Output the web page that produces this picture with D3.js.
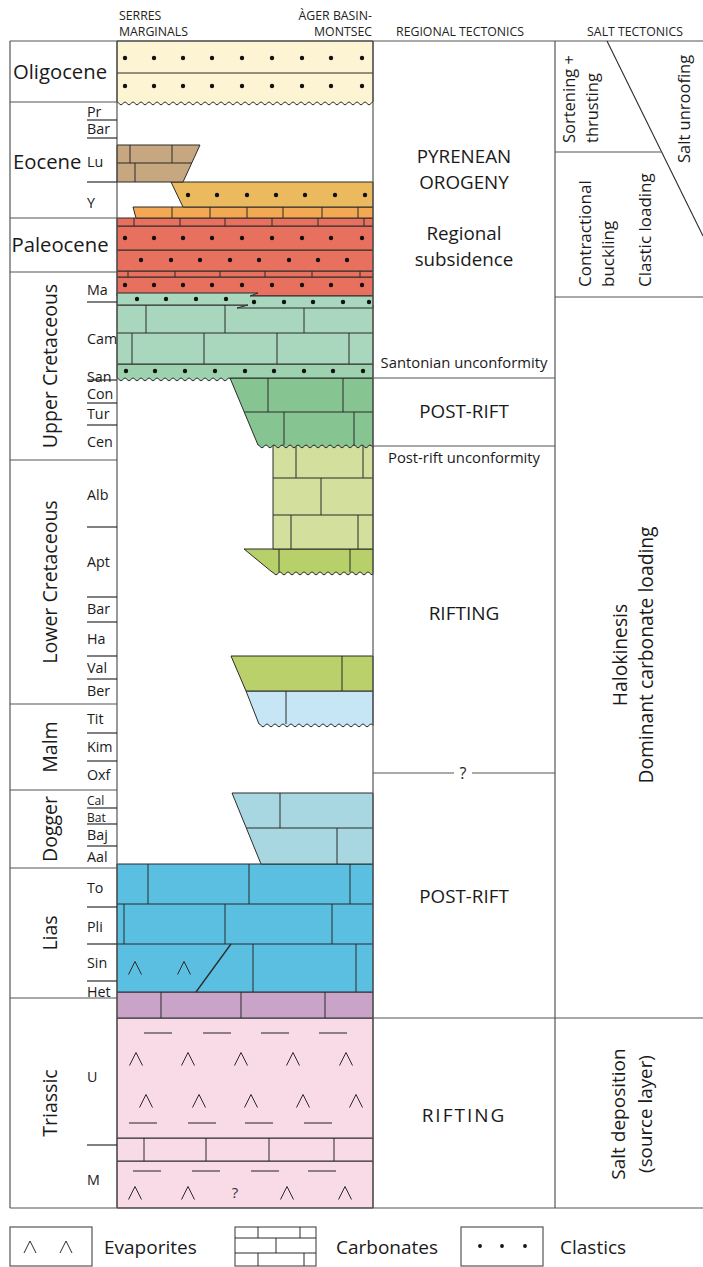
<!DOCTYPE html>
<html>
<head>
<meta charset="utf-8">
<script src="https://cdn.jsdelivr.net/npm/d3@7"></script>
<style>
  body { margin: 0; background: #fff; }
  svg { display: block; font-family: "Open Sans", sans-serif; }
</style>
</head>
<body>
<svg width="703" height="1267"></svg>
<script>
// ---- Data (depth = chart units from top of column, x = units across the lithology column 0..256)
const epochNames = ["Oligocene", "Eocene", "Paleocene", "Upper Cretaceous", "Lower Cretaceous", "Malm", "Dogger", "Lias", "Triassic"];
const epochBounds = [0, 61, 177, 231, 419, 663, 749, 827, 957, 1167];
const epochVertical = [false, false, false, true, true, true, true, true, true];

const stageNames = ["Pr", "Bar", "Lu", "Y", "Ma", "Cam", "San", "Con", "Tur", "Cen", "Alb", "Apt", "Bar", "Ha", "Val", "Ber",
  "Tit", "Kim", "Oxf", "Cal", "Bat", "Baj", "Aal", "To", "Pli", "Sin", "Het", "U", "M"];
const stageMid = [71, 88, 121, 162, 249, 298, 336, 353, 373, 401, 454, 521, 568, 598, 627, 650,
  678, 706, 734, 759, 776, 794, 816, 847, 886, 922, 951, 1036, 1139];
const stageLines = [79, 97, 141, 261, 339, 362, 384, 486, 556, 581, 615, 638, 692, 720, 767, 783, 805, 866, 903, 940, 1104];

const dotsA = [8, 37, 66, 95, 125, 155, 185, 214, 245];

// lithological units, listed top to bottom
const units = [
  { id: "oli", top: 0, bot: 61, lines: [32], dots: [[17, dotsA], [45, dotsA]], wavy: true },
  { id: "lu", top: 104, bot: 141, tl: 0, tr: 83, br: 66, lines: [122], bricks: [[104, 122, [13, 55]], [122, 141, [18]]] },
  { id: "yCl", top: 141, bot: 166, tl: 54, bl: 66, dots: [[154, [71, 100, 130, 159, 188, 218, 248]]] },
  { id: "yCa", top: 166, bot: 177, tl: 16, bl: 19, bricks: [[166, 177, [55, 93, 130, 166, 205, 241]]] },
  { id: "paCa", top: 177, bot: 185, bricks: [[177, 185, [17, 63, 108, 155, 201, 247]]] },
  { id: "paCl1", top: 185, bot: 209, dots: [[197, dotsA]] },
  { id: "paCl2", top: 209, bot: 230, dots: [[219, [24, 54, 83, 113, 142, 172, 201, 230]]] },
  { id: "paCa2", top: 230, bot: 236, bricks: [[230, 236, [11, 58, 103, 148, 195, 243]]] },
  { id: "maG", pts: [[0, 252], [141, 252], [133, 255], [256, 255], [256, 267], [120, 267], [131, 264], [0, 264]],
    dots: [[258, [20, 49, 79, 109]], [261, [137, 167, 196, 226, 252]]] },
  { id: "maR", top: 236, bot: 255, dots: [[244, dotsA]] },
  { id: "cam", top: 264, bot: 323, lines: [292], bricks: [[264, 292, [29, 108, 187]], [292, 323, [15, 87, 160, 232]]] },
  { id: "san", top: 323, bot: 337, dots: [[330, [9, 38, 68, 98, 128, 157, 187, 216, 246]]], wavy: [0, 113] },
  { id: "cc", top: 337, bot: 404, tl: 113, bl: 141, lines: [371], bricks: [[337, 371, [151, 226]], [371, 404, [167, 237]]], wavy: true },
  { id: "alb", top: 404, bot: 508, tl: 156, lines: [437, 474], bricks: [[404, 437, [179, 246]], [437, 474, [204]], [474, 508, [174, 241]]] },
  { id: "apt", top: 508, bot: 531, tl: 127, bl: 155, bricks: [[508, 531, [162, 233]]], wavy: true },
  { id: "val", top: 615, bot: 650, tl: 114, bl: 129, bricks: [[615, 650, [225]]] },
  { id: "ber", top: 650, bot: 683, tl: 129, bl: 142, bricks: [[650, 683, [169]]], wavy: true },
  { id: "dog", top: 752, bot: 823, tl: 115, bl: 144, lines: [787], bricks: [[752, 787, [163]], [787, 823, [220]]] },
  { id: "lias", top: 823, bot: 951, lines: [863, 903], bricks: [[823, 863, [31, 132, 233]], [863, 903, [7, 108, 215]], [903, 951, [136, 239]]],
    carets: [[927, [18, 67]]], diag: [[114, 903, 79, 951]] },
  { id: "het", top: 951, bot: 977, bricks: [[951, 977, [44, 124, 208]]] },
  { id: "triU", top: 977, bot: 1097, dashes: [[992, [41, 100, 158, 216]], [1082, [26, 85, 142, 201]]],
    carets: [[1018, [19, 71, 124, 176, 229]], [1060, [29, 82, 134, 186, 239]]] },
  { id: "triC", top: 1097, bot: 1120, bricks: [[1097, 1120, [27, 89, 152, 217]]] },
  { id: "triM", top: 1120, bot: 1167, dashes: [[1130, [30, 89, 148, 205]]], carets: [[1152, [18, 71, 170, 228]]], query: [[118, 1152]] }
];

const unitFill = {
  oli: "#fdf4d3", lu: "#c6a77f", yCl: "#ebb95e", yCa: "#f3a953", paCa: "#e8705e", paCl1: "#e8705e", paCl2: "#e8705e",
  paCa2: "#e8705e", maG: "#a9d7bd", maR: "#e8705e", cam: "#a9d7bd", san: "#9ed1ad", cc: "#86c491", alb: "#d3df9c",
  apt: "#b7d06a", val: "#b9d06b", ber: "#c6e6f5", dog: "#a9d7e1", lias: "#5bbfe1", het: "#c9a3c8",
  triU: "#f8dbe7", triC: "#f8dbe7", triM: "#f8dbe7"
};

// regional tectonics
const regionalBounds = [337, 405, 732, 977];
const regionalLabels = [
  { lines: ["PYRENEAN", "OROGENY"], d: 122, size: 18.8 },
  { lines: ["Regional", "subsidence"], d: 199, size: 18.8 },
  { lines: ["Santonian unconformity"], d: 327, size: 14.8 },
  { lines: ["POST-RIFT"], d: 377, size: 18.8 },
  { lines: ["Post-rift unconformity"], d: 422, size: 14.8 },
  { lines: ["RIFTING"], d: 579, size: 19 },
  { lines: ["POST-RIFT"], d: 862, size: 18.8 },
  { lines: ["RIFTING"], d: 1081, size: 19, spacing: 2 }
];

// salt tectonics
const saltBounds = [256, 977];
const saltLabels = [
  { text: "Sortening +", bx: 575, d: 102, anchor: "start", size: 16.5 },
  { text: "thrusting", bx: 598, d: 102, anchor: "start", size: 16.5 },
  { text: "Salt unroofing", bx: 690, d: 122, anchor: "start", size: 16.5 },
  { text: "Contractional", bx: 591, d: 246, anchor: "start", size: 17 },
  { text: "buckling", bx: 614, d: 246, anchor: "start", size: 17 },
  { text: "Clastic loading", bx: 651, d: 246, anchor: "start", size: 17 },
  { text: "Halokinesis", bx: 627, d: 614, anchor: "middle", size: 19.3 },
  { text: "Dominant carbonate loading", bx: 653, d: 614, anchor: "middle", size: 19.3 },
  { text: "Salt deposition", bx: 625, d: 1073, anchor: "middle", size: 19 },
  { text: "(source layer)", bx: 652, d: 1073, anchor: "middle", size: 18.8 }
];

const legendItems = ["Evaporites", "Carbonates", "Clastics"];

// ---- Layout
const svg = d3.select("svg");
const colLeft = 10, colStage = 117, colReg = 373, colSalt = 555, colRight = 703;
const y = d3.scaleLinear().domain([0, 1167]).range([41, 1208]);
const x = d3.scaleLinear().domain([0, 256]).range([colStage, colReg]);
const ink = "#2b2b2b";
const frame = "#555";

// ---- Lithology units
const gUnits = svg.append("g");

function edgeAt(u, d, side) {
  const tl = u.tl ?? 0, tr = u.tr ?? 256, bl = u.bl ?? tl, br = u.br ?? tr;
  const t = (d - u.top) / (u.bot - u.top);
  return side === "l" ? tl + (bl - tl) * t : tr + (br - tr) * t;
}

function unitPath(u) {
  if (u.pts) return "M" + u.pts.map(p => x(p[0]) + "," + y(p[1])).join("L") + "Z";
  const tl = u.tl ?? 0, tr = u.tr ?? 256, bl = u.bl ?? tl, br = u.br ?? tr;
  let p = `M${x(tl)},${y(u.top)}L${x(tr)},${y(u.top)}L${x(br)},${y(u.bot)}`;
  if (u.wavy) {
    const w = u.wavy === true ? [bl, br] : u.wavy;
    p += `L${x(w[1])},${y(u.bot)}`;
    for (let px = x(w[1]); px >= x(w[0]); px -= 1) {
      p += `L${px},${(y(u.bot) + 1.4 - 1.4 * Math.cos((px - x(w[0])) * 2 * Math.PI / 8)).toFixed(2)}`;
    }
  }
  p += `L${x(bl)},${y(u.bot)}Z`;
  return p;
}

function caret(g, cx, cy, s) {
  g.append("path")
    .attr("d", `M${cx - s / 2},${cy + s / 2}L${cx},${cy - s / 2}L${cx + s / 2},${cy + s / 2}`)
    .attr("fill", "none").attr("stroke", ink).attr("stroke-width", 1);
}

units.slice().reverse().forEach(u => {
  const g = gUnits.append("g");
  g.append("path").attr("d", unitPath(u))
    .attr("fill", unitFill[u.id]).attr("stroke", ink).attr("stroke-width", 1);
  (u.lines || []).forEach(d => {
    g.append("line").attr("x1", x(edgeAt(u, d, "l"))).attr("x2", x(edgeAt(u, d, "r")))
      .attr("y1", y(d)).attr("y2", y(d)).attr("stroke", ink);
  });
  (u.bricks || []).forEach(([t, b, xs]) => {
    g.selectAll(null).data(xs).enter().append("line")
      .attr("x1", v => x(v)).attr("x2", v => x(v)).attr("y1", y(t)).attr("y2", y(b)).attr("stroke", ink);
  });
  (u.dots || []).forEach(([d, xs]) => {
    g.selectAll(null).data(xs).enter().append("circle")
      .attr("cx", v => x(v)).attr("cy", y(d)).attr("r", 2.2).attr("fill", "#111");
  });
  (u.dashes || []).forEach(([d, xs]) => {
    g.selectAll(null).data(xs).enter().append("line")
      .attr("x1", v => x(v) - 14).attr("x2", v => x(v) + 14).attr("y1", y(d)).attr("y2", y(d))
      .attr("stroke", "#444").attr("stroke-width", 1.2);
  });
  (u.carets || []).forEach(([d, xs]) => xs.forEach(v => caret(g, x(v), y(d), 13)));
  (u.diag || []).forEach(([x1, d1, x2, d2]) => {
    g.append("line").attr("x1", x(x1)).attr("y1", y(d1)).attr("x2", x(x2)).attr("y2", y(d2)).attr("stroke", ink).attr("stroke-width", 1.3);
  });
  (u.query || []).forEach(([v, d]) => {
    g.append("text").attr("x", x(v)).attr("y", y(d) + 5).attr("text-anchor", "middle")
      .attr("font-size", 15).attr("fill", "#333").text("?");
  });
});

// ---- Frame
const gF = svg.append("g").attr("stroke", frame).attr("stroke-width", 1.2);
gF.append("line").attr("x1", colLeft).attr("x2", colRight).attr("y1", y(0)).attr("y2", y(0));
gF.append("line").attr("x1", colLeft).attr("x2", colRight).attr("y1", y(1167)).attr("y2", y(1167));
[colLeft, colStage, colReg, colSalt].forEach(cx => {
  gF.append("line").attr("x1", cx).attr("x2", cx).attr("y1", y(0)).attr("y2", y(1167));
});
// epoch boundaries
gF.selectAll(null).data(epochBounds.slice(1, -1)).enter().append("line")
  .attr("x1", colLeft).attr("x2", colStage).attr("y1", d => y(d)).attr("y2", d => y(d));
// stage boundaries
svg.append("g").selectAll("line").data(stageLines).enter().append("line")
  .attr("x1", 87).attr("x2", colStage).attr("y1", d => y(d)).attr("y2", d => y(d))
  .attr("stroke", ink).attr("stroke-width", 1.2);

// ---- Epoch labels
const gE = svg.append("g").attr("fill", "#1a1a1a");
epochNames.forEach((name, i) => {
  const mid = (epochBounds[i] + epochBounds[i + 1]) / 2;
  if (epochVertical[i]) {
    gE.append("text").attr("transform", `translate(57,${y(mid)}) rotate(-90)`)
      .attr("text-anchor", "middle").attr("font-size", 19.5).text(name);
  } else {
    const isEo = name === "Eocene";
    gE.append("text").attr("x", isEo ? 13 : 60).attr("y", isEo ? y(121) + 7 : y(mid) + 7)
      .attr("text-anchor", isEo ? "start" : "middle").attr("font-size", 20.3).text(name);
  }
});

// ---- Stage labels (the thin Cal / Bat stages get a slightly smaller size so they do not collide)
const thinStages = new Set(["Cal", "Bat"]);
svg.append("g").selectAll("text").data(stageNames).enter().append("text")
  .attr("x", 87).attr("y", (d, i) => y(stageMid[i]) + 5)
  .attr("font-size", d => thinStages.has(d) ? 12 : 14.3).attr("fill", "#1a1a1a").text(d => d);

// ---- Column headers
const gH = svg.append("g").attr("font-size", 12.3).attr("fill", "#222");
gH.append("text").attr("x", colStage + 2).attr("y", 20).text("SERRES");
gH.append("text").attr("x", colStage + 2).attr("y", 36).text("MARGINALS");
gH.append("text").attr("x", colReg - 1).attr("y", 20).attr("text-anchor", "end").text("ÀGER BASIN-");
gH.append("text").attr("x", colReg - 1).attr("y", 36).attr("text-anchor", "end").text("MONTSEC");
gH.append("text").attr("x", 460).attr("y", 36).attr("text-anchor", "middle").text("REGIONAL TECTONICS");
gH.append("text").attr("x", 635).attr("y", 36).attr("text-anchor", "middle").text("SALT TECTONICS");

// ---- Regional tectonics
const regMid = (colReg + colSalt) / 2;
const gR = svg.append("g");
regionalBounds.forEach(d => {
  const xEnd = d === 977 ? colRight : colSalt;
  if (d === 732) {
    gR.append("line").attr("x1", colReg).attr("x2", regMid - 10).attr("y1", y(d)).attr("y2", y(d)).attr("stroke", frame).attr("stroke-width", 1.2);
    gR.append("line").attr("x1", regMid + 8).attr("x2", xEnd).attr("y1", y(d)).attr("y2", y(d)).attr("stroke", frame).attr("stroke-width", 1.2);
    gR.append("text").attr("x", regMid - 1).attr("y", y(d) + 6).attr("text-anchor", "middle").attr("font-size", 16).attr("fill", "#222").text("?");
  } else {
    gR.append("line").attr("x1", colReg).attr("x2", xEnd).attr("y1", y(d)).attr("y2", y(d)).attr("stroke", frame).attr("stroke-width", 1.2);
  }
});
regionalLabels.forEach(l => {
  const t = gR.append("text").attr("text-anchor", "middle").attr("font-size", l.size).attr("fill", "#1a1a1a")
    .attr("letter-spacing", l.spacing || 0);
  l.lines.forEach((s, i) => {
    t.append("tspan").attr("x", regMid).attr("y", y(l.d) + i * 26).text(s);
  });
});

// ---- Salt tectonics
const gS = svg.append("g");
gS.append("line").attr("x1", colSalt).attr("x2", colRight).attr("y1", y(saltBounds[0])).attr("y2", y(saltBounds[0]))
  .attr("stroke", frame).attr("stroke-width", 1.2);
const diag = [[607, y(0)], [703, y(195)]];
gS.append("line").attr("x1", diag[0][0]).attr("y1", diag[0][1]).attr("x2", diag[1][0]).attr("y2", diag[1][1])
  .attr("stroke", ink).attr("stroke-width", 1.1);
const dSplit = 111;
const xSplit = diag[0][0] + (y(dSplit) - diag[0][1]) / (diag[1][1] - diag[0][1]) * (diag[1][0] - diag[0][0]);
gS.append("line").attr("x1", colSalt).attr("x2", xSplit).attr("y1", y(dSplit)).attr("y2", y(dSplit))
  .attr("stroke", frame).attr("stroke-width", 1.2);
saltLabels.forEach(l => {
  gS.append("text").attr("transform", `translate(${l.bx},${y(l.d)}) rotate(-90)`)
    .attr("text-anchor", l.anchor).attr("font-size", l.size).attr("fill", "#1a1a1a").text(l.text);
});

// ---- Legend
const gL = svg.append("g");
const boxes = [[10, 92], [235, 316], [461, 543]];
const lt = 1227, lb = 1266;
boxes.forEach(([a, b], i) => {
  gL.append("rect").attr("x", a).attr("y", lt).attr("width", b - a).attr("height", lb - lt)
    .attr("fill", "#fff").attr("stroke", frame).attr("stroke-width", 1.2);
  gL.append("text").attr("x", [104, 336, 560][i]).attr("y", 1254).attr("font-size", 19).attr("fill", "#1a1a1a").text(legendItems[i]);
});
[30, 66].forEach(cx => caret(gL, cx, 1247, 12));
[1238, 1253].forEach(ly => gL.append("line").attr("x1", 235).attr("x2", 316).attr("y1", ly).attr("y2", ly).attr("stroke", ink));
[[1227, 1238, [258, 300]], [1238, 1253, [276]], [1253, 1266, [258, 304]]].forEach(([t, b, xs]) => {
  xs.forEach(v => gL.append("line").attr("x1", v).attr("x2", v).attr("y1", t).attr("y2", b).attr("stroke", ink));
});
[480, 502, 525].forEach(cx => gL.append("circle").attr("cx", cx).attr("cy", 1246).attr("r", 1.9).attr("fill", "#111"));
</script>
</body>
</html>
